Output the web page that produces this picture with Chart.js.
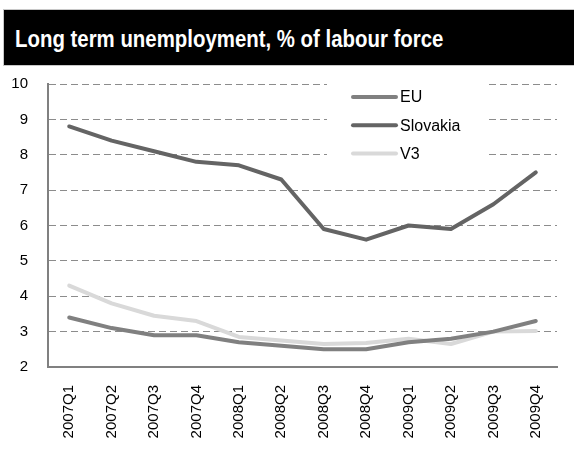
<!DOCTYPE html>
<html>
<head>
<meta charset="utf-8">
<script src="https://cdn.jsdelivr.net/npm/chart.js@4/dist/chart.umd.min.js"></script>
<style>
  html, body { margin: 0; padding: 0; background: #fff; }
  #wrap { position: relative; width: 574px; height: 459px; overflow: hidden; }
  #title {
    position: absolute; left: 3px; top: 9px; width: 580px; height: 57px;
    background: #000; border: 1px solid #c8c8c8; box-sizing: border-box;
    padding: 17px 0 0 11px; z-index: 2;
  }
  #title span {
    display: inline-block; color: #fff; white-space: nowrap;
    font-family: 'Liberation Sans', Arial, sans-serif; font-weight: bold;
    font-size: 24px; line-height: 24px;
    transform: scaleX(0.85); transform-origin: left center;
  }
  #chart { position: absolute; left: 0; top: 0; }
</style>
</head>
<body>
<div id="wrap">
  <div id="title"><span>Long term unemployment, % of labour force</span></div>
  <canvas id="chart" width="574" height="459"></canvas>
</div>
<script>
// data
const quarters = ['2007Q1', '2007Q2', '2007Q3', '2007Q4', '2008Q1', '2008Q2',
  '2008Q3', '2008Q4', '2009Q1', '2009Q2', '2009Q3', '2009Q4'];
const euValues = [3.4, 3.1, 2.9, 2.9, 2.7, 2.6, 2.5, 2.5, 2.7, 2.8, 3.0, 3.3];
const slovakiaValues = [8.8, 8.4, 8.1, 7.8, 7.7, 7.3, 5.9, 5.6, 6.0, 5.9, 6.6, 7.5];
const v3Values = [4.3, 3.8, 3.45, 3.3, 2.85, 2.75, 2.65, 2.68, 2.8, 2.65, 3.0, 3.02];
const yTicks = [2, 3, 4, 5, 6, 7, 8, 9, 10];

document.addEventListener('DOMContentLoaded', () => {
  const font = { family: "'Liberation Sans', Arial, sans-serif", size: 15 };

  // legend in a white box inside the plot, like the original
  const boxLegend = {
    id: 'boxLegend',
    afterDatasetsDraw(chart) {
      const ctx = chart.ctx;
      ctx.save();
      ctx.fillStyle = '#fff';
      ctx.fillRect(327, 79, 158, 90);
      chart.data.datasets.forEach((ds, i) => {
        const y = 97 + i * 28.3;
        ctx.strokeStyle = ds.borderColor;
        ctx.lineWidth = 4;
        ctx.lineCap = 'round';
        ctx.beginPath();
        ctx.moveTo(353, y);
        ctx.lineTo(396, y);
        ctx.stroke();
        ctx.fillStyle = '#000';
        ctx.font = '16px ' + font.family;
        ctx.textBaseline = 'middle';
        ctx.fillText(ds.label, 400, y + 1);
      });
      ctx.restore();
    }
  };

  const lineStyle = { borderWidth: 4, pointRadius: 0, tension: 0, borderCapStyle: 'round', borderJoinStyle: 'round' };

  new Chart(document.getElementById('chart'), {
    type: 'line',
    data: {
      labels: quarters,
      datasets: [
        { label: 'EU', data: euValues, borderColor: '#808080', ...lineStyle },
        { label: 'Slovakia', data: slovakiaValues, borderColor: '#646464', ...lineStyle },
        { label: 'V3', data: v3Values, borderColor: '#d9d9d9', ...lineStyle }
      ]
    },
    options: {
      responsive: false,
      animation: false,
      layout: { padding: { top: 84, right: 17, left: 0, bottom: 0 } },
      plugins: { legend: { display: false }, tooltip: { enabled: false } },
      scales: {
        x: {
          offset: true,
          grid: { display: false, drawTicks: false },
          border: { display: true, color: '#808080', width: 2 },
          ticks: { color: '#000', font, minRotation: 90, maxRotation: 90, padding: 18, autoSkip: false },
          afterFit: (s) => { s.height = 92; }
        },
        y: {
          min: 2, max: 10,
          afterBuildTicks: (s) => { s.ticks = yTicks.map(v => ({ value: v })); },
          grid: { color: '#8c8c8c', lineWidth: 1, drawTicks: false },
          border: { display: true, color: '#808080', width: 2, dash: [7, 4] },
          ticks: { color: '#000', font, padding: 20 },
          afterFit: (s) => { s.width = 48; }
        }
      }
    },
    plugins: [boxLegend]
  });
});
</script>
</body>
</html>
